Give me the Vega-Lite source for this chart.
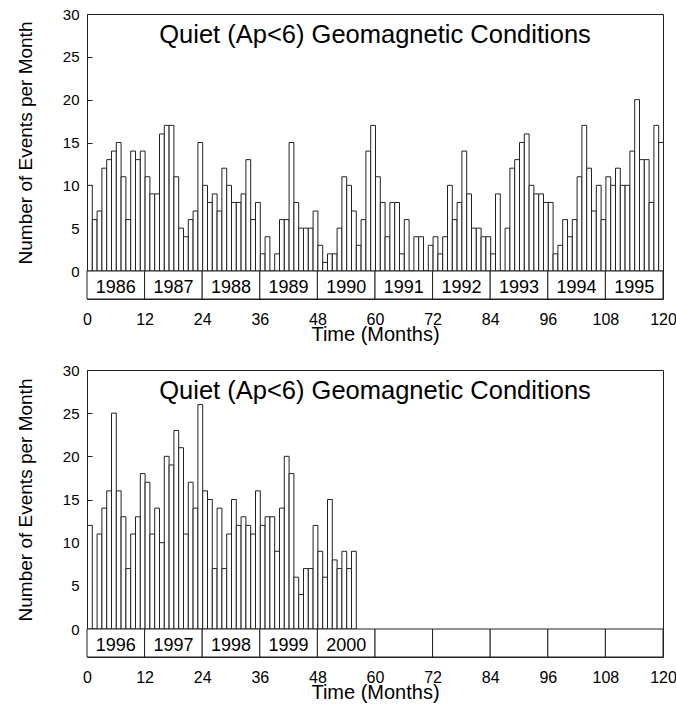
{
  "$schema": "https://vega.github.io/schema/vega-lite/v6.json",
  "padding": {"left": 15, "top": 6, "right": 5, "bottom": 5},
  "background": "white",
  "config": {
    "font": "Liberation Sans",
    "view": {"stroke": "#222", "strokeWidth": 1},
    "axis": {"labelFont": "Liberation Sans", "titleFont": "Liberation Sans", "labelColor": "#000", "titleColor": "#000", "domainColor": "#222", "tickColor": "#222", "grid": false, "titleFontWeight": "normal"}
  },
  "datasets": {
    "top": [
      {"month":0,"events":10},{"month":1,"events":6},{"month":2,"events":7},{"month":3,"events":12},{"month":4,"events":13},{"month":5,"events":14},{"month":6,"events":15},{"month":7,"events":11},{"month":8,"events":6},{"month":9,"events":14},{"month":10,"events":13},{"month":11,"events":14},
      {"month":12,"events":11},{"month":13,"events":9},{"month":14,"events":9},{"month":15,"events":16},{"month":16,"events":17},{"month":17,"events":17},{"month":18,"events":11},{"month":19,"events":5},{"month":20,"events":4},{"month":21,"events":6},{"month":22,"events":7},{"month":23,"events":15},
      {"month":24,"events":10},{"month":25,"events":8},{"month":26,"events":9},{"month":27,"events":7},{"month":28,"events":12},{"month":29,"events":10},{"month":30,"events":8},{"month":31,"events":8},{"month":32,"events":9},{"month":33,"events":13},{"month":34,"events":6},{"month":35,"events":8},
      {"month":36,"events":2},{"month":37,"events":4},{"month":38,"events":0},{"month":39,"events":2},{"month":40,"events":6},{"month":41,"events":6},{"month":42,"events":15},{"month":43,"events":8},{"month":44,"events":5},{"month":45,"events":5},{"month":46,"events":5},{"month":47,"events":7},
      {"month":48,"events":3},{"month":49,"events":1},{"month":50,"events":2},{"month":51,"events":2},{"month":52,"events":5},{"month":53,"events":11},{"month":54,"events":10},{"month":55,"events":7},{"month":56,"events":3},{"month":57,"events":6},{"month":58,"events":14},{"month":59,"events":17},
      {"month":60,"events":11},{"month":61,"events":8},{"month":62,"events":4},{"month":63,"events":8},{"month":64,"events":8},{"month":65,"events":2},{"month":66,"events":6},{"month":67,"events":0},{"month":68,"events":4},{"month":69,"events":4},{"month":70,"events":0},{"month":71,"events":3},
      {"month":72,"events":4},{"month":73,"events":2},{"month":74,"events":4},{"month":75,"events":10},{"month":76,"events":6},{"month":77,"events":8},{"month":78,"events":14},{"month":79,"events":9},{"month":80,"events":5},{"month":81,"events":5},{"month":82,"events":4},{"month":83,"events":4},
      {"month":84,"events":2},{"month":85,"events":9},{"month":86,"events":0},{"month":87,"events":5},{"month":88,"events":12},{"month":89,"events":13},{"month":90,"events":15},{"month":91,"events":16},{"month":92,"events":10},{"month":93,"events":9},{"month":94,"events":9},{"month":95,"events":8},
      {"month":96,"events":8},{"month":97,"events":2},{"month":98,"events":3},{"month":99,"events":6},{"month":100,"events":4},{"month":101,"events":6},{"month":102,"events":11},{"month":103,"events":17},{"month":104,"events":12},{"month":105,"events":7},{"month":106,"events":10},{"month":107,"events":6},
      {"month":108,"events":11},{"month":109,"events":10},{"month":110,"events":12},{"month":111,"events":10},{"month":112,"events":10},{"month":113,"events":14},{"month":114,"events":20},{"month":115,"events":13},{"month":116,"events":13},{"month":117,"events":8},{"month":118,"events":17},{"month":119,"events":15}
    ],
    "bottom": [
      {"month":0,"events":12},{"month":1,"events":0},{"month":2,"events":11},{"month":3,"events":14},{"month":4,"events":16},{"month":5,"events":25},{"month":6,"events":16},{"month":7,"events":13},{"month":8,"events":7},{"month":9,"events":11},{"month":10,"events":13},{"month":11,"events":18},
      {"month":12,"events":17},{"month":13,"events":11},{"month":14,"events":14},{"month":15,"events":10},{"month":16,"events":20},{"month":17,"events":19},{"month":18,"events":23},{"month":19,"events":21},{"month":20,"events":11},{"month":21,"events":17},{"month":22,"events":14},{"month":23,"events":26},
      {"month":24,"events":16},{"month":25,"events":15},{"month":26,"events":7},{"month":27,"events":14},{"month":28,"events":7},{"month":29,"events":11},{"month":30,"events":15},{"month":31,"events":12},{"month":32,"events":13},{"month":33,"events":12},{"month":34,"events":11},{"month":35,"events":16},
      {"month":36,"events":12},{"month":37,"events":13},{"month":38,"events":13},{"month":39,"events":9},{"month":40,"events":14},{"month":41,"events":20},{"month":42,"events":18},{"month":43,"events":6},{"month":44,"events":4},{"month":45,"events":7},{"month":46,"events":7},{"month":47,"events":12},
      {"month":48,"events":9},{"month":49,"events":6},{"month":50,"events":15},{"month":51,"events":8},{"month":52,"events":7},{"month":53,"events":9},{"month":54,"events":7},{"month":55,"events":9}
    ],
    "yearsTop": [
      {"year":"1986","start":0,"end":12},{"year":"1987","start":12,"end":24},{"year":"1988","start":24,"end":36},{"year":"1989","start":36,"end":48},{"year":"1990","start":48,"end":60},
      {"year":"1991","start":60,"end":72},{"year":"1992","start":72,"end":84},{"year":"1993","start":84,"end":96},{"year":"1994","start":96,"end":108},{"year":"1995","start":108,"end":120}
    ],
    "yearsBottom": [
      {"year":"1996","start":0,"end":12},{"year":"1997","start":12,"end":24},{"year":"1998","start":24,"end":36},{"year":"1999","start":36,"end":48},{"year":"2000","start":48,"end":60},
      {"year":"","start":60,"end":72},{"year":"","start":72,"end":84},{"year":"","start":84,"end":96},{"year":"","start":96,"end":108},{"year":"","start":108,"end":120}
    ]
  },
  "spacing": 17,
  "vconcat": [
    {
      "bounds": "flush",
      "spacing": 0,
      "vconcat": [
        {
          "width": 576, "height": 257,
          "layer": [
            {
              "data": {"name": "top"},
              "mark": {"type": "bar", "fill": "white", "stroke": "#222", "strokeWidth": 1, "binSpacing": 0},
              "encoding": {
                "x": {"field": "month", "type": "quantitative", "bin": {"binned": true, "step": 1}, "scale": {"domain": [0, 120], "nice": false}, "axis": null},
                "y": {"field": "events", "type": "quantitative", "scale": {"domain": [0, 30], "nice": false},
                      "axis": {"title": "Number of Events per Month", "values": [0,5,10,15,20,25,30], "domain": false, "tickSize": -5, "labelPadding": 13, "labelFontSize": 15, "titleFontSize": 19, "titlePadding": 27}}
              }
            },
            {
              "data": {"values": [{}]},
              "mark": {"type": "text", "fontSize": 25.5, "align": "center", "baseline": "alphabetic", "color": "#000"},
              "encoding": {"x": {"datum": 60, "type": "quantitative"}, "y": {"datum": 26.6, "type": "quantitative"}, "text": {"value": "Quiet (Ap<6) Geomagnetic Conditions"}}
            }
          ]
        },
        {
          "width": 576, "height": 28,
          "data": {"name": "yearsTop"},
          "layer": [
            {
              "mark": {"type": "rect", "fill": "white", "stroke": "#222", "strokeWidth": 1},
              "encoding": {
                "x": {"field": "start", "type": "quantitative", "scale": {"domain": [0, 120], "nice": false},
                      "axis": {"values": [0,12,24,36,48,60,72,84,96,108,120], "tickSize": 0, "domain": false, "labelPadding": 12, "labelFontSize": 16, "labelFlush": false, "labelOverlap": false, "title": "Time (Months)", "titleFontSize": 20, "titlePadding": -3}},
                "x2": {"field": "end"}
              }
            },
            {
              "mark": {"type": "text", "fontSize": 18, "dx": 28.8, "dy": 3, "align": "center", "color": "#000"},
              "encoding": {"x": {"field": "start", "type": "quantitative"}, "text": {"field": "year"}}
            }
          ]
        }
      ]
    },
    {
      "bounds": "flush",
      "spacing": 0,
      "vconcat": [
        {
          "width": 576, "height": 259,
          "layer": [
            {
              "data": {"name": "bottom"},
              "mark": {"type": "bar", "fill": "white", "stroke": "#222", "strokeWidth": 1, "binSpacing": 0},
              "encoding": {
                "x": {"field": "month", "type": "quantitative", "bin": {"binned": true, "step": 1}, "scale": {"domain": [0, 120], "nice": false}, "axis": null},
                "y": {"field": "events", "type": "quantitative", "scale": {"domain": [0, 30], "nice": false},
                      "axis": {"title": "Number of Events per Month", "values": [0,5,10,15,20,25,30], "domain": false, "tickSize": -5, "labelPadding": 13, "labelFontSize": 15, "titleFontSize": 19, "titlePadding": 27}}
              }
            },
            {
              "data": {"values": [{}]},
              "mark": {"type": "text", "fontSize": 25.5, "align": "center", "baseline": "alphabetic", "color": "#000"},
              "encoding": {"x": {"datum": 60, "type": "quantitative"}, "y": {"datum": 26.6, "type": "quantitative"}, "text": {"value": "Quiet (Ap<6) Geomagnetic Conditions"}}
            }
          ]
        },
        {
          "width": 576, "height": 28,
          "data": {"name": "yearsBottom"},
          "layer": [
            {
              "mark": {"type": "rect", "fill": "white", "stroke": "#222", "strokeWidth": 1},
              "encoding": {
                "x": {"field": "start", "type": "quantitative", "scale": {"domain": [0, 120], "nice": false},
                      "axis": {"values": [0,12,24,36,48,60,72,84,96,108,120], "tickSize": 0, "domain": false, "labelPadding": 12, "labelFontSize": 16, "labelFlush": false, "labelOverlap": false, "title": "Time (Months)", "titleFontSize": 20, "titlePadding": -3}},
                "x2": {"field": "end"}
              }
            },
            {
              "mark": {"type": "text", "fontSize": 18, "dx": 28.8, "dy": 3, "align": "center", "color": "#000"},
              "encoding": {"x": {"field": "start", "type": "quantitative"}, "text": {"field": "year"}}
            }
          ]
        }
      ]
    }
  ]
}
